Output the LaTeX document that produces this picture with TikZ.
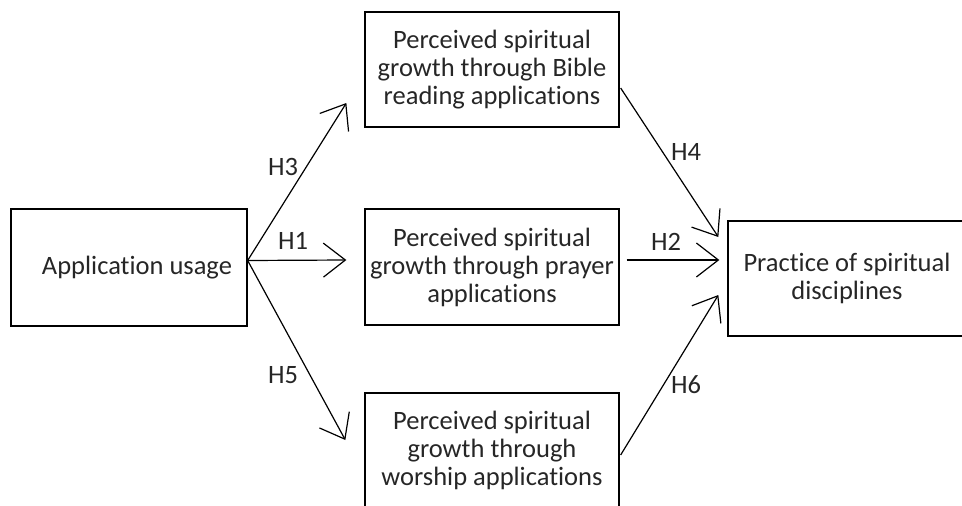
\documentclass[tikz,border=0pt]{standalone}
\usepackage{fontspec}
\setmainfont{Carlito}[Ligatures={NoCommon,NoDiscretionary,NoRare}]
\usetikzlibrary{arrows.meta}
\begin{document}
\begin{tikzpicture}[x=1pt, y=-1pt,
  box/.style={draw, line width=1.3pt, align=center, inner sep=0pt,
    minimum height=115pt, font=\fontsize{26.5}{28}\selectfont, text=black!85},
  link/.style={-{Straight Barb[length=22pt, width=34pt, line width=1.2pt]}, line width=1.2pt},
  hyp/.style={font=\fontsize{26.5}{28}\selectfont, text=black!85, inner sep=0pt}]
  \clip (0,0) rectangle (962,506);
  % kvadri
  \node [box, minimum width=236pt, minimum height=117pt] (app) at (129, 267.5) {\hspace*{16pt}Application usage};
  \node [box, minimum width=254pt] (bible) at (492, 69.5) {Perceived spiritual\\growth through Bible\\reading applications};
  \node [box, minimum width=254pt, minimum height=116pt] (prayer) at (492, 267) {Perceived spiritual\\growth through prayer\\applications};
  \node [box, minimum width=254pt] (worship) at (492, 450.5) {Perceived spiritual\\growth through\\worship applications};
  \node [box, minimum width=238pt] (practice) at (847, 278.5) {Practice of spiritual\\disciplines};
  % puscice
  \coordinate (hub) at ([yshift=7pt]app.east);
  \draw [link] (hub) -- ([xshift=-18pt, yshift=-33.5pt]bible.west);
  \draw [link] (hub) -- ([xshift=-18pt, yshift=7pt]prayer.west);
  \draw [link] (hub) -- ([xshift=-19pt, yshift=10.5pt]worship.west);
  \draw [link] ([xshift=1pt, yshift=-18.5pt]bible.east) -- ([xshift=-9pt, yshift=41.5pt]practice.west);
  \draw [link] ([xshift=7pt, yshift=7pt]prayer.east) -- ([xshift=-8pt, yshift=18.5pt]practice.west);
  \draw [link] ([xshift=1pt, yshift=-4.5pt]worship.east) -- ([xshift=-9pt, yshift=-16.5pt]practice.west);
  % oznake
  \node [hyp] (h3) at (283, 167) {H3};
  \node [hyp] (h1) at (293, 241) {H1};
  \node [hyp] (h5) at (283, 375) {H5};
  \node [hyp] (h4) at (686, 152) {H4};
  \node [hyp] (h2) at (666, 242) {H2};
  \node [hyp] (h6) at (686, 385) {H6};
\end{tikzpicture}
\end{document}
